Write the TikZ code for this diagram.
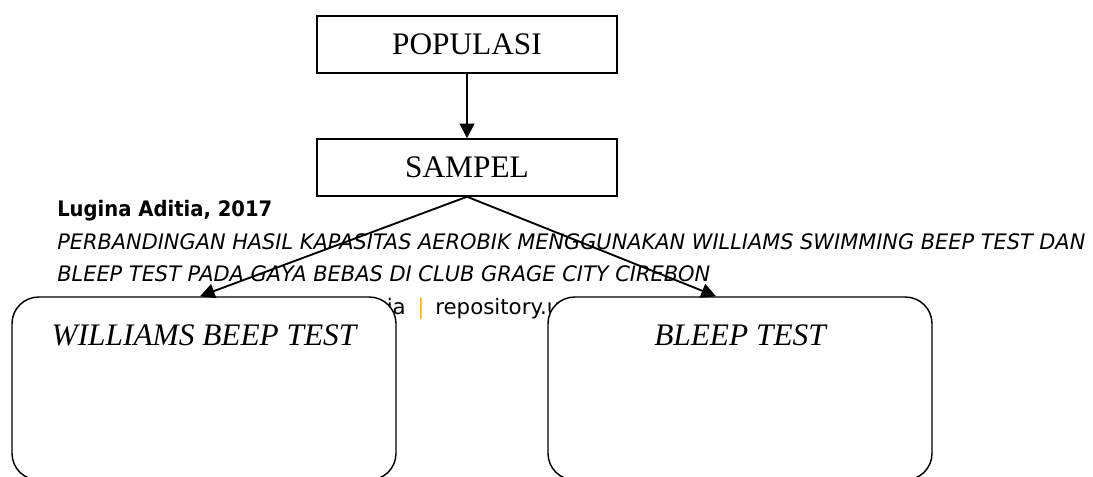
\documentclass[tikz,border=0pt]{standalone}
\usepackage{fontspec}
\setmainfont{Liberation Serif}
\newfontfamily\wmfont{DejaVu Sans}
\usetikzlibrary{arrows.meta}
\definecolor{barorange}{RGB}{245,180,30}
\tikzset{
  topbox/.style={draw=black, line width=1.1pt, fill=white, minimum width=225pt, minimum height=42.75pt, inner sep=0pt, font=\fontsize{23.5}{28}\selectfont},
  roundbox/.style={draw=black, line width=1.1pt, fill=white, rounded corners=20pt, minimum width=288pt, minimum height=137.25pt, inner sep=0pt},
  boxtext/.style={anchor=base, inner sep=0pt, font=\fontsize{23.5}{28}\selectfont\itshape},
  wmtext/.style={inner sep=0pt, font=\wmfont\fontsize{16}{19}\selectfont},
  arr/.style={line width=1.4pt, -{Triangle[length=11pt,width=11pt]}}
}
\begin{document}
\begin{tikzpicture}[x=0.75pt,y=-0.75pt]
\useasboundingbox (0,0) rectangle (1093,477);
\clip (0,0) rectangle (1093,477);
% watermark
\node[wmtext, anchor=base west] (wm1) at (57,217) {\resizebox{161.25pt}{\height}{\bfseries Lugina Aditia, 2017}};
\node[wmtext, anchor=base west] (wm2) at (57,250) {\resizebox{771pt}{\height}{\itshape PERBANDINGAN HASIL KAPASITAS AEROBIK MENGGUNAKAN WILLIAMS SWIMMING BEEP TEST DAN}};
\node[wmtext, anchor=base west] (wm3) at (57,282) {\resizebox{489.75pt}{\height}{\itshape BLEEP TEST PADA GAYA BEBAS DI CLUB GRAGE CITY CIREBON}};
\node[wmtext, anchor=base east] (wm4a) at (406,315) {Universitas Pendidikan Indonesia};
\node[wmtext, anchor=base, text=barorange] (wm4b) at (421,315) {|};
\node[wmtext, anchor=base west] (wm4c) at (435,315) {repository.upi.edu \textcolor{barorange}{|} perpustakaan.upi.edu};
% boxes
\node[topbox] (pop) at (467,44.5) {POPULASI};
\node[topbox] (sam) at (467,167.5) {SAMPEL};
\node[roundbox] (lbox) at (204,388.5) {};
\node[roundbox] (rbox) at (740,388.5) {};
\node[boxtext] (ltext) at (204,345.5) {WILLIAMS BEEP TEST};
\node[boxtext] (rtext) at (740,345.5) {BLEEP TEST};
% arrows
\coordinate (ltip) at ([xshift=-3pt]lbox.north);
\coordinate (rtip) at ([xshift=-18pt]rbox.north);
\draw[arr] (pop.south) -- (sam.north);
\draw[arr] (sam.south) -- (ltip);
\draw[arr] (sam.south) -- (rtip);
\end{tikzpicture}
\end{document}
